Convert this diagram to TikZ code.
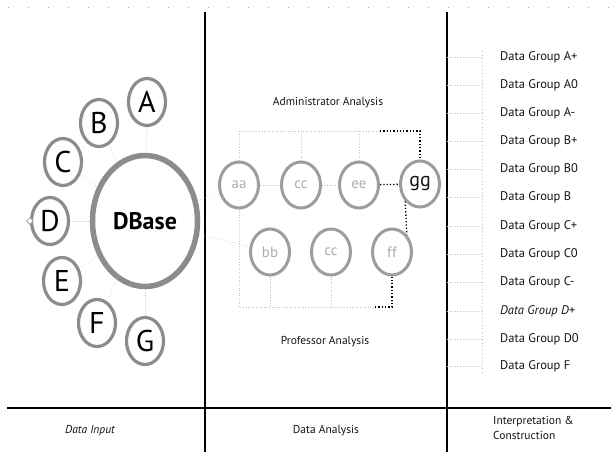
\documentclass[tikz,border=0pt]{standalone}
\usepackage{fontspec}
\setmainfont{PT Sans}
\usetikzlibrary{shapes.geometric}
\definecolor{ringgray}{gray}{0.55}
\definecolor{paleink}{gray}{0.68}
\definecolor{ink}{gray}{0.08}
\begin{document}
\begin{tikzpicture}[x=1pt,y=-1pt,
  bigring/.style={ellipse, draw=ringgray, line width=5.5pt, minimum width=105, minimum height=131,
    inner sep=0pt, font=\bfseries\fontsize{24}{24}\selectfont},
  letterring/.style={ellipse, draw=ringgray, line width=3.2pt, minimum width=37, minimum height=47,
    inner sep=0pt, font=\fontsize{30}{30}\selectfont},
  paleball/.style={ellipse, draw=ringgray!85, line width=3pt, minimum width=39, minimum height=46,
    inner sep=0pt, text=paleink, font=\fontsize{15}{15}\selectfont},
  darkball/.style={paleball, text=ink, font=\fontsize{20}{20}\selectfont},
  faintdot/.style={draw=gray!50, dotted, line width=0.6pt},
  darkdot/.style={draw=black, dotted, line width=1.3pt},
  divider/.style={draw=black, line width=1.3pt},
  grouplabel/.style={anchor=west, inner sep=0pt, text=ink, font=\fontsize{12.5}{12.5}\selectfont},
  caption/.style={inner sep=0pt, text=ink, font=\fontsize{11.5}{11.5}\selectfont}
]
\useasboundingbox (0,0) rectangle (611,452);

% frame of the three columns
\coordinate (topL) at (8,8);
\coordinate (topR) at (611,8);
\draw[gray!70, line width=1pt, dash pattern=on 1pt off 19pt] (topL) -- (topR);
\coordinate (colA) at (205,12);
\coordinate (colAb) at (205,452);
\coordinate (colB) at (447,12);
\coordinate (colBb) at (447,452);
\coordinate (baseL) at (7,408);
\coordinate (baseR) at (611,408);
\draw[divider] (colA) -- (colAb);
\draw[divider] (colB) -- (colBb);
\draw[divider] (baseL) -- (baseR);

% column captions
\node[caption, font=\itshape\fontsize{11.5}{11.5}\selectfont] (capIn) at (90,431) {Data Input};
\node[caption] (capAn) at (326,431) {Data Analysis};
\node[caption, anchor=west, align=left, font=\fontsize{11.5}{15}\selectfont] (capIc) at (493,428)
  {Interpretation \&\\Construction};

% data input: the database and its sources
\node[bigring] (db) at (145,221) {DBase};
\node[letterring] (A) at (147,102) {A};
\node[letterring] (B) at (99,123) {B};
\node[letterring] (C) at (63,162) {C};
\node[letterring] (D) at (50,221) {D};
\node[letterring] (E) at (62,281) {E};
\node[letterring] (F) at (97,323) {F};
\node[letterring] (G) at (145,341) {G};
\node[diamond, draw=gray!70, fill=white, line width=0.8pt, minimum size=7pt, inner sep=0pt] (Dtip) at (D.west) {};
\foreach \s in {A,B,C,D,E,F,G} \draw[faintdot] (\s) -- (db);

% data analysis
\node[caption] (admin) at (328,103) {Administrator Analysis};
\node[caption] (prof) at (325,342) {Professor Analysis};
\node[paleball] (aa) at (239,185) {aa};
\node[paleball] (cc) at (301,185) {cc};
\node[paleball] (ee) at (359,185) {ee};
\node[darkball] (gg) at (420,184) {gg};
\node[paleball] (bb) at (270,252) {bb};
\node[paleball] (dd) at (331,252) {cc};
\node[paleball] (ff) at (392,252) {ff};

\coordinate (adminbar) at (0,131);
\coordinate (profbar) at (0,307);
\coordinate (darkstart) at (380,131);
\coordinate (darkend) at (375,307);

\draw[faintdot] (aa.north) |- (darkstart);
\draw[darkdot] (darkstart) -| (gg.north);
\draw[faintdot] (cc.north) -- (cc.north |- adminbar);
\draw[faintdot] (ee.north) -- (ee.north |- adminbar);
\draw[faintdot] (aa) -- (cc);
\draw[faintdot] (cc) -- (ee);
\draw[darkdot] (ee) -- (gg);
\draw[darkdot] (gg.south west) -- (ff.north east);

\draw[faintdot] (aa.south) |- (darkend);
\draw[darkdot] (darkend) -| (ff.south);
\draw[faintdot] (bb.south) -- (bb.south |- profbar);
\draw[faintdot] (dd.south) -- (dd.south |- profbar);
\draw[faintdot] (db) -- (aa);
\draw[faintdot] (db) -- (bb);

% interpretation: the data groups
\node[grouplabel] (g1)  at (500,57)  {Data Group A+};
\node[grouplabel] (g2)  at (500,85)  {Data Group A0};
\node[grouplabel] (g3)  at (500,113) {Data Group A-};
\node[grouplabel] (g4)  at (500,141) {Data Group B+};
\node[grouplabel] (g5)  at (500,169) {Data Group B0};
\node[grouplabel] (g6)  at (500,197) {Data Group B};
\node[grouplabel] (g7)  at (500,226) {Data Group C+};
\node[grouplabel] (g8)  at (500,254) {Data Group C0};
\node[grouplabel] (g9)  at (500,282) {Data Group C-};
\node[grouplabel, font=\itshape\fontsize{12.5}{12.5}\selectfont] (g10) at (500,311) {Data Group D+};
\node[grouplabel] (g11) at (500,339) {Data Group D0};
\node[grouplabel] (g12) at (500,366) {Data Group F};

\coordinate (tick) at (482,0);
\foreach \i in {1,...,12} {
  \coordinate (s\i) at (colB |- g\i.west);
  \draw[faintdot, shorten >=18pt] (s\i) -- (g\i.west);
}
\draw[faintdot, dash pattern=on 0.6pt off 3pt] (tick |- g1.north) -- (tick |- g12.south);
\end{tikzpicture}
\end{document}
